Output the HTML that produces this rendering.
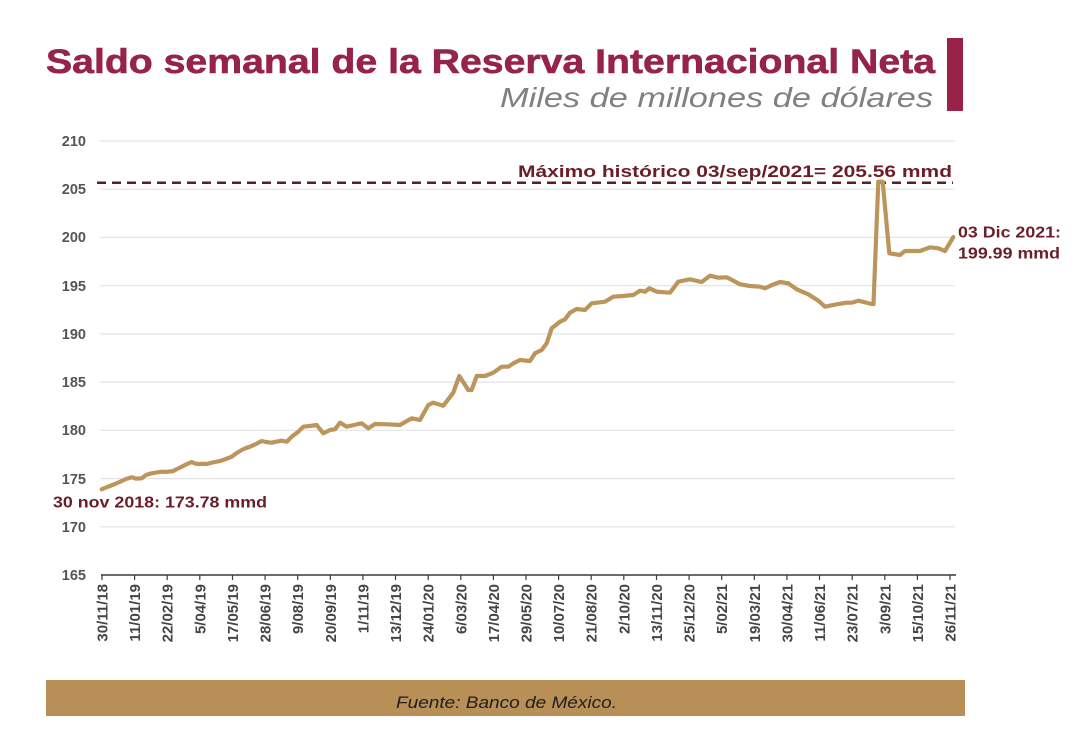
<!DOCTYPE html>
<html>
<head>
<meta charset="utf-8">
<style>
  html,body{margin:0;padding:0;background:#fff;}
  svg{display:block;}
</style>
</head>
<body>
<svg width="1080" height="733" viewBox="0 0 1080 733" xmlns="http://www.w3.org/2000/svg" font-family="'Liberation Sans', sans-serif">
  <rect width="1080" height="733" fill="#ffffff"/>

  <!-- Title -->
  <text x="46" y="73" font-size="34" font-weight="bold" fill="#962349" stroke="#962349" stroke-width="0.6" textLength="889" lengthAdjust="spacingAndGlyphs">Saldo semanal de la Reserva Internacional Neta</text>
  <text x="933" y="107" font-size="28" font-style="italic" fill="#808080" text-anchor="end" textLength="433" lengthAdjust="spacingAndGlyphs">Miles de millones de dólares</text>
  <rect x="947" y="38" width="16" height="73" fill="#9b2247"/>

  <!-- Gridlines -->
  <g stroke="#e3e3e3" stroke-width="1.2">
    <line x1="100" y1="141" x2="955" y2="141"/>
    <line x1="100" y1="189.2" x2="955" y2="189.2"/>
    <line x1="100" y1="237.4" x2="955" y2="237.4"/>
    <line x1="100" y1="285.7" x2="955" y2="285.7"/>
    <line x1="100" y1="333.9" x2="955" y2="333.9"/>
    <line x1="100" y1="382.1" x2="955" y2="382.1"/>
    <line x1="100" y1="430.3" x2="955" y2="430.3"/>
    <line x1="100" y1="478.6" x2="955" y2="478.6"/>
    <line x1="100" y1="526.8" x2="955" y2="526.8"/>
  </g>

  <!-- Y labels -->
  <g font-size="14.5" font-weight="bold" fill="#555555" text-anchor="end">
    <text x="86" y="146">210</text>
    <text x="86" y="194">205</text>
    <text x="86" y="242">200</text>
    <text x="86" y="291">195</text>
    <text x="86" y="339">190</text>
    <text x="86" y="387">185</text>
    <text x="86" y="435">180</text>
    <text x="86" y="484">175</text>
    <text x="86" y="532">170</text>
    <text x="86" y="580">165</text>
  </g>

  <!-- Max dashed line -->
  <line x1="97" y1="182.7" x2="953" y2="182.7" stroke="#5a1f26" stroke-width="2.5" stroke-dasharray="9,6"/>

  <!-- Axis -->
  <line x1="101" y1="575" x2="956" y2="575" stroke="#3a3a3a" stroke-width="1.6"/>
  <g stroke="#3a3a3a" stroke-width="1.2">
    <line x1="102" y1="575" x2="102" y2="580"/>
    <line x1="134.6" y1="575" x2="134.6" y2="580"/>
    <line x1="167.2" y1="575" x2="167.2" y2="580"/>
    <line x1="199.8" y1="575" x2="199.8" y2="580"/>
    <line x1="232.5" y1="575" x2="232.5" y2="580"/>
    <line x1="265.1" y1="575" x2="265.1" y2="580"/>
    <line x1="297.7" y1="575" x2="297.7" y2="580"/>
    <line x1="330.3" y1="575" x2="330.3" y2="580"/>
    <line x1="362.9" y1="575" x2="362.9" y2="580"/>
    <line x1="395.5" y1="575" x2="395.5" y2="580"/>
    <line x1="428.2" y1="575" x2="428.2" y2="580"/>
    <line x1="460.8" y1="575" x2="460.8" y2="580"/>
    <line x1="493.4" y1="575" x2="493.4" y2="580"/>
    <line x1="526" y1="575" x2="526" y2="580"/>
    <line x1="558.6" y1="575" x2="558.6" y2="580"/>
    <line x1="591.2" y1="575" x2="591.2" y2="580"/>
    <line x1="623.8" y1="575" x2="623.8" y2="580"/>
    <line x1="656.5" y1="575" x2="656.5" y2="580"/>
    <line x1="689.1" y1="575" x2="689.1" y2="580"/>
    <line x1="721.7" y1="575" x2="721.7" y2="580"/>
    <line x1="754.3" y1="575" x2="754.3" y2="580"/>
    <line x1="786.9" y1="575" x2="786.9" y2="580"/>
    <line x1="819.5" y1="575" x2="819.5" y2="580"/>
    <line x1="852.2" y1="575" x2="852.2" y2="580"/>
    <line x1="884.8" y1="575" x2="884.8" y2="580"/>
    <line x1="917.4" y1="575" x2="917.4" y2="580"/>
    <line x1="950" y1="575" x2="950" y2="580"/>
  </g>

  <!-- X labels -->
  <g font-size="15" font-weight="bold" fill="#454545" text-anchor="end">
    <text transform="translate(107.5,584) rotate(-90)">30/11/18</text>
    <text transform="translate(140.1,584) rotate(-90)">11/01/19</text>
    <text transform="translate(172.7,584) rotate(-90)">22/02/19</text>
    <text transform="translate(205.3,584) rotate(-90)">5/04/19</text>
    <text transform="translate(238,584) rotate(-90)">17/05/19</text>
    <text transform="translate(270.6,584) rotate(-90)">28/06/19</text>
    <text transform="translate(303.2,584) rotate(-90)">9/08/19</text>
    <text transform="translate(335.8,584) rotate(-90)">20/09/19</text>
    <text transform="translate(368.4,584) rotate(-90)">1/11/19</text>
    <text transform="translate(401,584) rotate(-90)">13/12/19</text>
    <text transform="translate(433.7,584) rotate(-90)">24/01/20</text>
    <text transform="translate(466.3,584) rotate(-90)">6/03/20</text>
    <text transform="translate(498.9,584) rotate(-90)">17/04/20</text>
    <text transform="translate(531.5,584) rotate(-90)">29/05/20</text>
    <text transform="translate(564.1,584) rotate(-90)">10/07/20</text>
    <text transform="translate(596.7,584) rotate(-90)">21/08/20</text>
    <text transform="translate(629.3,584) rotate(-90)">2/10/20</text>
    <text transform="translate(662,584) rotate(-90)">13/11/20</text>
    <text transform="translate(694.6,584) rotate(-90)">25/12/20</text>
    <text transform="translate(727.2,584) rotate(-90)">5/02/21</text>
    <text transform="translate(759.8,584) rotate(-90)">19/03/21</text>
    <text transform="translate(792.4,584) rotate(-90)">30/04/21</text>
    <text transform="translate(825,584) rotate(-90)">11/06/21</text>
    <text transform="translate(857.7,584) rotate(-90)">23/07/21</text>
    <text transform="translate(890.3,584) rotate(-90)">3/09/21</text>
    <text transform="translate(922.9,584) rotate(-90)">15/10/21</text>
    <text transform="translate(955.5,584) rotate(-90)">26/11/21</text>
  </g>

  <!-- Series -->
  <polyline fill="none" stroke="#bc955c" stroke-width="4.2" stroke-linejoin="round" stroke-linecap="round"
    points="101.7,489.3 106,487.5 110,486 115,484 121.7,481 126,479 131.7,477.3 136,478.6 141.7,478.3 146,475 151.7,473.3 156,472.6 161.7,471.7 167,471.8 173.3,471 177,469 181.7,466.7 186,464.5 191.7,462 195,463.5 198.3,464 202,463.8 206.7,464 213,462.4 220,461 226,459 231.7,456.7 236,453.5 241.7,450 246,448 250,446.7 256,444 261.7,441 266,442 271.7,442.7 276,441.7 281.7,440.7 286.7,441.7 292,436.5 298.3,431.7 303.3,426.7 310,426 316.7,425 323.3,433.3 330,430 335,429.3 340,422.7 346.7,426.7 354,425 361.7,423.3 368.3,428.3 375,424 386.7,424.3 400,425 406,421.5 411.7,418.3 420,420 428.3,405 433.3,402.7 443.3,405.7 453.3,392.7 459.3,376 468.3,390 471.7,390 476.7,376 485,376 493.3,372.7 501.7,366.7 508.3,366.7 514,363 520,360 530,361 535,353.3 541.7,350 546.7,343.3 551.7,328.3 560,321.7 565,319.3 570,312.7 576.7,309 585,310 591.7,303.3 598,302.6 605,301.7 613.3,296.7 623,296 633.3,295 640,290.7 645,291.7 649.3,288.3 656.7,291.7 670,292.7 678.3,281.7 684,280.5 690,279.3 701.7,282 710,275.7 718.3,277.7 726.7,277.3 733,280.5 740,284.3 750,286 760,286.7 765,288.3 772,285 780,282 788.3,283.3 796.7,289.3 808.3,294.3 818.3,300.7 825,306.7 836.7,304.3 846.7,302.7 851.7,302.7 858.3,300.7 871.7,304 873.5,304 878.3,181.7 882.7,181.7 889.3,253.3 900,255 905,251 920,251 930,247.3 938.3,248.3 945,251 953.3,237"/>

  <!-- Annotations -->
  <text x="518" y="177" font-size="17" font-weight="bold" fill="#6b1d28" textLength="434" lengthAdjust="spacingAndGlyphs">Máximo histórico 03/sep/2021= 205.56 mmd</text>
  <text x="53" y="507.5" font-size="16" font-weight="bold" fill="#6b1d28" textLength="214" lengthAdjust="spacingAndGlyphs">30 nov 2018: 173.78 mmd</text>
  <text x="958" y="237.5" font-size="16" font-weight="bold" fill="#6b1d28" textLength="103" lengthAdjust="spacingAndGlyphs">03 Dic 2021:</text>
  <text x="958" y="258.5" font-size="16" font-weight="bold" fill="#6b1d28" textLength="102" lengthAdjust="spacingAndGlyphs">199.99 mmd</text>

  <!-- Footer -->
  <rect x="46" y="680" width="919" height="36" fill="#b98f58"/>
  <text x="396" y="708" font-size="17" font-style="italic" fill="#1e1e1e" textLength="221" lengthAdjust="spacingAndGlyphs">Fuente: Banco de México.</text>
</svg>
</body>
</html>
